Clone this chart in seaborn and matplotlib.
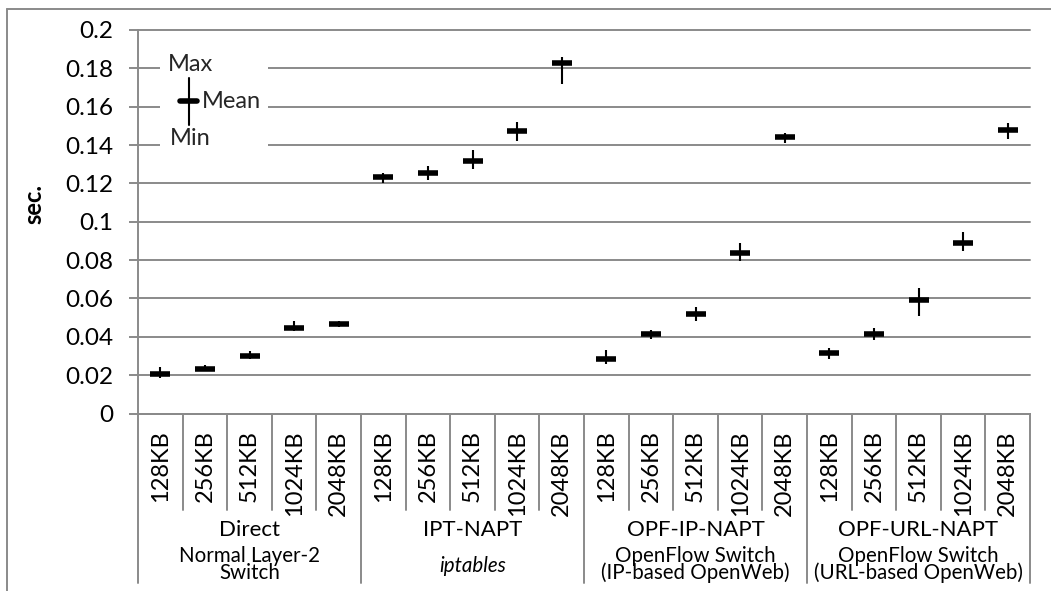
import numpy as np
import pandas as pd
import seaborn as sns
import matplotlib.pyplot as plt
import matplotlib.transforms as mtransforms
from matplotlib.patches import Rectangle
from matplotlib.lines import Line2D
from matplotlib.ticker import FuncFormatter

# ---- data -------------------------------------------------------------
groups = ["Direct", "IPT-NAPT", "OPF-IP-NAPT", "OPF-URL-NAPT"]
group_notes = [
    ["Normal Layer-2", "Switch"],
    ["iptables"],
    ["OpenFlow Switch", "(IP-based OpenWeb)"],
    ["OpenFlow Switch", "(URL-based OpenWeb)"],
]
sizes = ["128KB", "256KB", "512KB", "1024KB", "2048KB"]

direct_mean = [0.0205, 0.0234, 0.0300, 0.0447, 0.0469]
direct_max = [0.0240, 0.0252, 0.0327, 0.0483, 0.0480]
direct_min = [0.0183, 0.0222, 0.0282, 0.0429, 0.0449]

ipt_mean = [0.1231, 0.1252, 0.1315, 0.1473, 0.1826]
ipt_max = [0.1252, 0.1290, 0.1375, 0.1518, 0.1857]
ipt_min = [0.1203, 0.1217, 0.1273, 0.1419, 0.1718]

opf_ip_mean = [0.0285, 0.0415, 0.0518, 0.0836, 0.1443]
opf_ip_max = [0.0330, 0.0435, 0.0556, 0.0887, 0.1461]
opf_ip_min = [0.0256, 0.0391, 0.0481, 0.0796, 0.1412]

opf_url_mean = [0.0315, 0.0412, 0.0591, 0.0887, 0.1481]
opf_url_max = [0.0339, 0.0447, 0.0657, 0.0944, 0.1513]
opf_url_min = [0.0282, 0.0384, 0.0506, 0.0850, 0.1429]

means = [direct_mean, ipt_mean, opf_ip_mean, opf_url_mean]
maxs = [direct_max, ipt_max, opf_ip_max, opf_url_max]
mins = [direct_min, ipt_min, opf_ip_min, opf_url_min]

rows = []
for g, name in enumerate(groups):
    for s, size in enumerate(sizes):
        rows.append(dict(pos=g * len(sizes) + s, group=name, size=size,
                         mean=means[g][s], lo=mins[g][s], hi=maxs[g][s]))
df = pd.DataFrame(rows)

# ---- style ------------------------------------------------------------
sns.set_theme(style="white")
plt.rcParams["font.family"] = ["Lato", "DejaVu Sans"]
GRAY = "#8a8a8a"
LW = 1.4

W, H = 1051, 591
fig, ax = plt.subplots(figsize=(W / 100, H / 100), dpi=100)
fig.subplots_adjust(left=138 / W, right=1030 / W, bottom=1 - 413.5 / H, top=1 - 30 / H)

# min-max ranges and mean ticks
ax.vlines(df["pos"], df["lo"], df["hi"], color="black", lw=1.5, zorder=3)
sns.scatterplot(data=df, x="pos", y="mean", marker="_", s=195, linewidth=4,
                color="black", ax=ax, zorder=4, legend=False)

ax.set_xlim(-0.5, len(df) - 0.5)
ax.set_ylim(0, 0.2)
ax.set_xlabel("")
ax.set_ylabel("")

# y axis
ax.set_yticks(np.arange(0, 0.2001, 0.02))
ax.yaxis.set_major_formatter(FuncFormatter(lambda v, _: f"{v:.2f}".rstrip("0").rstrip(".")))
ax.tick_params(axis="y", length=6.5, width=LW, color=GRAY, pad=11, labelsize=17.5,
               labelcolor="black", left=True)
ax.yaxis.grid(True, color=GRAY, lw=LW)
ax.set_axisbelow(True)
for gl in ax.yaxis.get_gridlines():
    gl.set_clip_on(False)

# x axis: size labels
ax.set_xticks(df["pos"])
ax.set_xticklabels(df["size"], rotation=90)
ax.tick_params(axis="x", length=0, pad=12, labelsize=17, labelcolor="black")

for side in ["top", "right"]:
    ax.spines[side].set_visible(False)
for side in ["left", "bottom"]:
    ax.spines[side].set_color(GRAY)
    ax.spines[side].set_linewidth(LW)

# category separators below the axis
trans = mtransforms.blended_transform_factory(ax.transData, ax.transAxes)
ax_h = 383.5
short_end = -(510 - 413.5) / ax_h
long_end = -(583 - 413.5) / ax_h
for k, b in enumerate(np.arange(-0.5, len(df), 1.0)):
    end = long_end if k % len(sizes) == 0 else short_end
    ax.add_line(Line2D([b, b], [0, end], transform=trans, clip_on=False,
                       color=GRAY, lw=LW))

# group names and notes (notes drawn as one tightly spaced block,
# anchored on the baseline of its last line)
title_y = -(535.5 - 413.5) / ax_h
note_last_y = -(579 - 413.5) / ax_h
single_note_y = -(571.7 - 413.5) / ax_h
for g, name in enumerate(groups):
    cx = g * len(sizes) + (len(sizes) - 1) / 2
    ax.text(cx, title_y, name, transform=trans, ha="center", va="baseline",
            fontsize=16, color="black")
    notes = group_notes[g]
    if len(notes) == 1:
        ax.text(cx, single_note_y, notes[0], transform=trans, ha="center",
                va="baseline", fontsize=14.8, style="italic", color="black")
    else:
        ax.text(cx, note_last_y, "\n".join(notes), transform=trans, ha="center",
                va="baseline", multialignment="center", linespacing=0.81,
                fontsize=14.8, color="black")

# y label
fig.text(33.5 / W, 1 - 203.5 / H, "sec.", rotation=90, ha="center", va="center",
         fontsize=17, fontweight="bold", color="black")

# legend key (Max / Mean / Min)
ax.add_patch(Rectangle((0.0247, 0.68), 0.1215, 0.265, transform=ax.transAxes,
                       facecolor="white", edgecolor="none", zorder=1.5))
ax.add_line(Line2D([0.0575, 0.0575], [0.752, 0.874], transform=ax.transAxes,
                   color="black", lw=1.5, zorder=3))
ax.add_line(Line2D([0.0471, 0.0665], [0.815, 0.815], transform=ax.transAxes,
                   color="black", lw=4, zorder=4))
ax.text(0.0583, 0.893, "Max", transform=ax.transAxes, ha="center", va="baseline",
        fontsize=17, zorder=5)
ax.text(0.0714, 0.796, "Mean", transform=ax.transAxes, ha="left", va="baseline",
        fontsize=17, zorder=5)
ax.text(0.0583, 0.700, "Min", transform=ax.transAxes, ha="center", va="baseline",
        fontsize=17, zorder=5)

# outer frame
fig.add_artist(Line2D([7.3 / W, 7.3 / W], [0, 1 - 9 / H], color=GRAY, lw=LW))
fig.add_artist(Line2D([7.3 / W, 1], [1 - 9 / H, 1 - 9 / H], color=GRAY, lw=LW))

fig.savefig("out.png", dpi=100)
